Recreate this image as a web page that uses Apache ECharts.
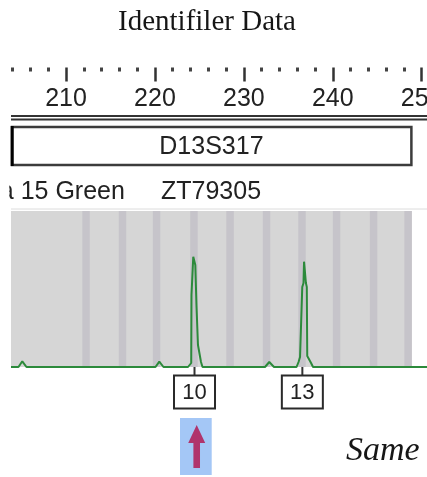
<!DOCTYPE html>
<html><head><meta charset="utf-8">
<script src="https://cdn.jsdelivr.net/npm/echarts@6/dist/echarts.min.js"></script>
<style>html,body{margin:0;padding:0;background:#fff}#c{width:427px;height:477px}</style>
</head><body><div id="c"></div>
<script>
// ---- data ----
const titleText = 'Identifiler Data';
const viewRange = [203.81, 250.6];                      // bp shown across the panel
const majorTicks = [210, 220, 230, 240, 250];
const minorTicks = [204, 206, 208, 212, 214, 216, 218, 222, 224, 226, 228, 232, 234, 236, 238, 242, 244, 246, 248];
const markerName = 'D13S317';
const markerRange = [203.81, 248.9];                    // bp
const dyeLabel = 'a 15 Green';
const sampleName = 'ZT79305';
const binBp = [212.25, 216.35, 220.18, 224.39, 228.45, 232.55, 236.54, 240.43, 244.59, 248.47];
const traceBp  = [203.81, 204.65, 205.08, 205.55, 220.06, 220.49, 220.96, 223.72, 223.94, 224.08, 224.11, 224.28, 224.31, 224.46, 224.54, 224.64, 224.67, 224.80, 224.84, 225.01, 225.18, 225.35, 232.38, 232.86, 233.39, 235.93, 236.15, 236.32, 236.52, 236.57, 236.71, 236.77, 236.94, 236.98, 237.08, 237.13, 237.33, 237.56, 237.78, 250.6];
const traceRfu = [0, 0, 57, 0, 0, 53, 0, 0, 20, 40, 720, 720, 1103, 1100, 1020, 1020, 620, 620, 220, 200, 50, 0, 0, 50, 0, 0, 50, 100, 100, 800, 840, 1053, 1050, 840, 800, 110, 100, 40, 0, 0];
const calledAlleles = ['10', '13'];
const calledBp = [224.45, 236.58];
const arrowAllele = '10';
const footText = 'Same';

// ---- chart ----
const chart = echarts.init(document.getElementById('c'), null, {renderer: 'canvas'});
const SANS = '"Liberation Sans", Arial, sans-serif';
const SERIF = '"Liberation Serif", "Times New Roman", serif';

const bgAreas = [[{xAxis: markerRange[0], itemStyle: {color: '#d6d6d6'}}, {xAxis: markerRange[1]}]]
  .concat(binBp.map(b => [{xAxis: b - 0.42, itemStyle: {color: '#c6c4ca'}}, {xAxis: b + 0.42}]));

const option = {
  animation: false,
  backgroundColor: '#fff',
  title: {
    text: titleText, left: 113, top: 3,
    textStyle: {fontFamily: SERIF, fontSize: 29, fontWeight: 'normal', color: '#161616'}
  },
  grid: [
    {left: 11, right: 0, top: 67.5, height: 48, containLabel: false, outerBoundsMode: 'none'},
    {left: 11, right: 0, top: 211, height: 156, containLabel: false, outerBoundsMode: 'none'}
  ],
  xAxis: [
    {
      gridIndex: 0, type: 'value', position: 'top', min: viewRange[0], max: viewRange[1],
      axisLine: {show: false, onZero: false}, splitLine: {show: false},
      axisTick: {show: true, inside: true, length: 14, customValues: majorTicks,
        lineStyle: {color: '#333', width: 2.5}},
      axisLabel: {show: true, inside: true, margin: 19, customValues: majorTicks, hideOverlap: false,
        fontFamily: SANS, fontSize: 25, color: '#222'}
    },
    {
      gridIndex: 0, type: 'value', position: 'top', min: viewRange[0], max: viewRange[1],
      axisLine: {show: false, onZero: false}, splitLine: {show: false},
      axisTick: {show: true, inside: true, length: 4, customValues: minorTicks,
        lineStyle: {color: '#444', width: 3}},
      axisLabel: {show: false}
    },
    {gridIndex: 1, type: 'value', min: viewRange[0], max: viewRange[1], show: false}
  ],
  yAxis: [
    {gridIndex: 0, type: 'value', show: false, min: 0, max: 1},
    {gridIndex: 1, type: 'value', show: false, min: 0, max: 1560}
  ],
  series: [
    {
      type: 'line', xAxisIndex: 2, yAxisIndex: 1, data: [], z: 1,
      markArea: {silent: true, label: {show: false}, data: bgAreas}
    },
    {
      type: 'line', xAxisIndex: 2, yAxisIndex: 1, z: 3, clip: false,
      data: traceBp.map((b, i) => [b, traceRfu[i]]),
      symbol: 'none', lineStyle: {color: '#2c8a3b', width: 2}
    },
    {
      type: 'custom', xAxisIndex: 2, yAxisIndex: 1, z: 5, clip: false,
      data: [[markerRange[0], markerRange[1]]],
      renderItem(params, api) {
        const x0 = api.coord([api.value(0), 0])[0];
        const x1 = api.coord([api.value(1), 0])[0];
        return {type: 'group', children: [
          {type: 'rect', shape: {x: x0 + 1, y: 127, width: x1 - x0 - 1.5, height: 38},
            style: {fill: '#fff', stroke: '#3c3c3c', lineWidth: 2.5}},
          {type: 'line', shape: {x1: x0 + 1.2, y1: 126, x2: x0 + 1.2, y2: 166},
            style: {stroke: '#000', lineWidth: 3}},
          {type: 'text', style: {text: markerName, x: (x0 + x1) / 2, y: 147.5, align: 'center',
            verticalAlign: 'middle', fontFamily: SANS, fontSize: 25, fill: '#222'}}
        ]};
      }
    },
    {
      type: 'custom', xAxisIndex: 2, yAxisIndex: 1, z: 6, clip: false,
      data: calledBp.map((b, i) => [b, 0, i]),
      renderItem(params, api) {
        const p = api.coord([api.value(0), 0]);
        const label = calledAlleles[params.dataIndex];
        const x = p[0], y = p[1];
        const children = [
          {type: 'line', shape: {x1: x, y1: y, x2: x, y2: y + 9}, style: {stroke: '#333', lineWidth: 2}},
          {type: 'rect', shape: {x: x - 20.5, y: y + 8.5, width: 41, height: 33},
            style: {fill: '#fff', stroke: '#2a2a2a', lineWidth: 2}},
          {type: 'text', style: {text: label, x: x, y: y + 25.5, align: 'center', verticalAlign: 'middle',
            fontFamily: SANS, fontSize: 22, fill: '#222'}}
        ];
        if (label === arrowAllele) {
          const cx = x + 2.2;
          children.push({type: 'rect', shape: {x: x - 14.5, y: y + 51, width: 31.7, height: 57},
            style: {fill: '#a4c7f6'}});
          children.push({type: 'polygon', shape: {points: [
            [cx, y + 58], [cx + 8.5, y + 76], [cx + 3.3, y + 76], [cx + 3.3, y + 101],
            [cx - 3.3, y + 101], [cx - 3.3, y + 76], [cx - 8.5, y + 76]]},
            style: {fill: '#b0346c'}});
        }
        return {type: 'group', children};
      }
    }
  ],
  graphic: [
    {type: 'line', shape: {x1: 11, y1: 116, x2: 427, y2: 116}, style: {stroke: '#333', lineWidth: 2}},
    {type: 'line', shape: {x1: 11, y1: 119.6, x2: 427, y2: 119.6}, style: {stroke: '#333', lineWidth: 2}},
    {type: 'text', x: -0.2, y: 192, style: {text: dyeLabel, fontFamily: SANS, fontSize: 25, fill: '#222',
      verticalAlign: 'middle'}},
    {type: 'rect', shape: {x: 0, y: 176, width: 9.3, height: 30}, style: {fill: '#fff'}},
    {type: 'text', x: 161, y: 192, style: {text: sampleName, fontFamily: SANS, fontSize: 25, fill: '#222',
      verticalAlign: 'middle'}},
    {type: 'line', shape: {x1: 11, y1: 209, x2: 427, y2: 209}, style: {stroke: '#dcdcdc', lineWidth: 1}},
    {type: 'text', x: 346, y: 468, style: {text: footText, fontFamily: SERIF, fontSize: 34, fontStyle: 'italic',
      fill: '#161616', verticalAlign: 'bottom'}}
  ]
};
chart.setOption(option);
</script>
</body></html>
